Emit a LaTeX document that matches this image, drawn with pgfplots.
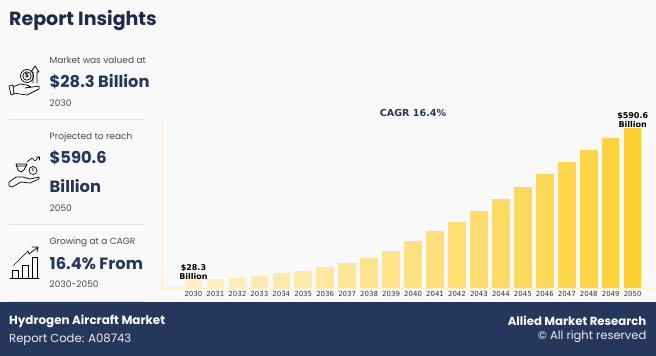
\documentclass[border=0pt]{standalone}
\usepackage{pgfplots}
\pgfplotsset{compat=1.18}
\usepackage{fontspec}
\setmainfont{Poppins}
\newfontfamily\dv{DejaVu Sans}
\definecolor{navy}{HTML}{25375B}
\definecolor{ink}{HTML}{1E2A4A}
\definecolor{grayt}{HTML}{4A4A4A}
\definecolor{barhi}{HTML}{FFD034}
\definecolor{barlo}{HTML}{FFEFC2}
\definecolor{axln}{HTML}{FDF2CC}
\newcommand{\bbar}[3]{\addplot[ybar,bar width=17.5pt,bar shift=0pt,draw=none,fill=barhi!#3!barlo] coordinates {(#1,#2)};}
\begin{document}
\begin{tikzpicture}[x=1pt,y=-1pt,
  lab/.style={anchor=west,inner sep=0pt,text=grayt,font=\fontsize{9}{9}\selectfont},
  big/.style={anchor=west,inner sep=0pt,text=navy,font=\fontsize{16.3}{16.3}\selectfont\bfseries},
  ic/.style={draw=black,line width=0.7pt,line join=round,line cap=round}]
\useasboundingbox (0,0) rectangle (656,356);
\fill[fill=white!97.5!black] (0,0) rectangle (656,356);
% chart
\begin{axis}[at={(162pt,-288pt)},anchor=south west,scale only axis,width=492pt,height=168pt,
  xmin=2028.57,xmax=2050.97,ymin=0,ymax=621.3,
  axis x line=bottom,axis y line=left,
  axis line style={draw=axln,line width=1.6pt,-},
  ytick=\empty,xtick={2030,2031,...,2050},
  major tick length=0pt,
  x tick label style={/pgf/number format/1000 sep={},/pgf/number format/assume math mode=true,
    font=\dv\fontsize{7}{7}\selectfont,text=black!80,inner sep=0pt,yshift=-3.4pt},
  clip=false]
\bbar{2030}{28.3}{0}
\bbar{2031}{33}{4}
\bbar{2032}{38.8}{8}
\bbar{2033}{44.4}{12}
\bbar{2034}{55}{16}
\bbar{2035}{64}{20}
\bbar{2036}{77}{25}
\bbar{2037}{92}{30}
\bbar{2038}{111}{35}
\bbar{2039}{137}{40}
\bbar{2040}{173}{45}
\bbar{2041}{210}{50}
\bbar{2042}{244}{55}
\bbar{2043}{284}{60}
\bbar{2044}{329}{65}
\bbar{2045}{373}{70}
\bbar{2046}{422}{75}
\bbar{2047}{466}{82}
\bbar{2048}{510}{88}
\bbar{2049}{553}{94}
\bbar{2050}{590.6}{100}
\node[anchor=south,align=center,inner sep=0pt,font=\dv\fontsize{8}{9}\selectfont\bfseries,yshift=1pt] at (axis cs:2030,28.3) {\$28.3\\Billion};
\node[anchor=south,align=center,inner sep=0pt,font=\dv\fontsize{8}{9}\selectfont\bfseries,yshift=0pt] at (axis cs:2050,590.6) {\$590.6\\Billion};
\end{axis}
\node[inner sep=0pt,text=navy,font=\dv\fontsize{9.6}{9.6}\selectfont\bfseries] at (413,113.5) {CAGR 16.4\%};
% left panel
\node[anchor=west,inner sep=0pt,text=ink,font=\fontsize{19}{19}\selectfont\bfseries] at (9,21) {Report Insights};
\node[lab] at (49.5,60) {Market was valued at};
\node[big] at (49.5,81.5) {\$28.3 Billion};
\node[lab] at (49.5,103) {2030};
\draw[draw=black!10,line width=0.8pt] (9,119) -- (144,119);
\node[lab] at (49.5,137) {Projected to reach};
\node[big] at (49.5,157.5) {\$590.6};
\node[big] at (49.5,186.5) {Billion};
\node[lab] at (49.5,208.5) {2050};
\draw[draw=black!10,line width=0.8pt] (9,224.5) -- (144,224.5);
\node[lab] at (49.5,242) {Growing at a CAGR};
\node[big] at (49.5,263.5) {16.4\% From};
\node[lab] at (49.5,284.5) {2030-2050};
\draw[draw=black!10,line width=0.8pt] (9,301) -- (144,301);
% icon 1
\draw[ic] (27,76) circle (6.5);
\draw[ic] (27,76) circle (4.2);
\node[inner sep=0pt,font=\dv\fontsize{6}{6}\selectfont\bfseries] at (27,76) {\$};
\draw[ic] (33,83) -- (33,72) -- (31,72) -- (35,66) -- (39,72) -- (37,72) -- (37,83);
\draw[ic] (13,87) -- (20,84) -- (27,85) -- (31,87) -- (25,88) (29,87.5) -- (39,86) -- (39,89) -- (27,95) -- (13,93) ;
\draw[ic] (9,86) -- (13,85) -- (14,94) -- (11,95) -- cycle;
% icon 2
\draw[ic] (16,164) -- (27,164) -- (24,170) -- (21,172) -- (18,170) -- cycle (16,166) -- (26,166);
\draw[ic] (33,170.5) circle (4);
\node[inner sep=0pt,font=\dv\fontsize{4.5}{4.5}\selectfont] at (33,170.5) {\$};
\draw[ic] (27,162) -- (32,158) -- (35,161) -- (39,157) (36.5,157) -- (39.5,157) -- (39.5,160);
\draw[ic] (9,182) -- (9,186) -- (12,187) -- (21,182) -- (30,183) -- (39,179) -- (39,177) -- (30,179) -- (23,177) -- (16,177) -- cycle;
% icon 3
\draw[ic] (10,278) -- (39,278);
\draw[ic] (12,278) -- (12,270) -- (18,270) -- (18,278);
\draw[ic] (22,278) -- (22,265) -- (28,265) -- (28,278);
\draw[ic] (32,278) -- (32,257) -- (37,257) -- (37,278);
\draw[ic,densely dotted] (13,266) -- (17,262);
\draw[ic] (17,262) -- (28,251) -- (29,254) -- (37,248) (32,247) -- (38,247) -- (37,252);
% footer
\fill[fill=navy] (0,302) rectangle (656,356);
\node[anchor=west,inner sep=0pt,text=white,font=\fontsize{11.9}{11.9}\selectfont\bfseries] at (9,321.5) {Hydrogen Aircraft Market};
\node[anchor=west,inner sep=0pt,text=white!92!navy,font=\fontsize{11.6}{11.6}\selectfont] at (9,340) {Report Code: A08743};
\node[anchor=east,inner sep=0pt,text=white,font=\fontsize{11.7}{11.7}\selectfont\bfseries] at (646.5,320.5) {Allied Market Research};
\node[anchor=east,inner sep=0pt,text=white!92!navy,font=\fontsize{11.5}{11.5}\selectfont] at (646.5,337) {© All right reserved};
\end{tikzpicture}
\end{document}
